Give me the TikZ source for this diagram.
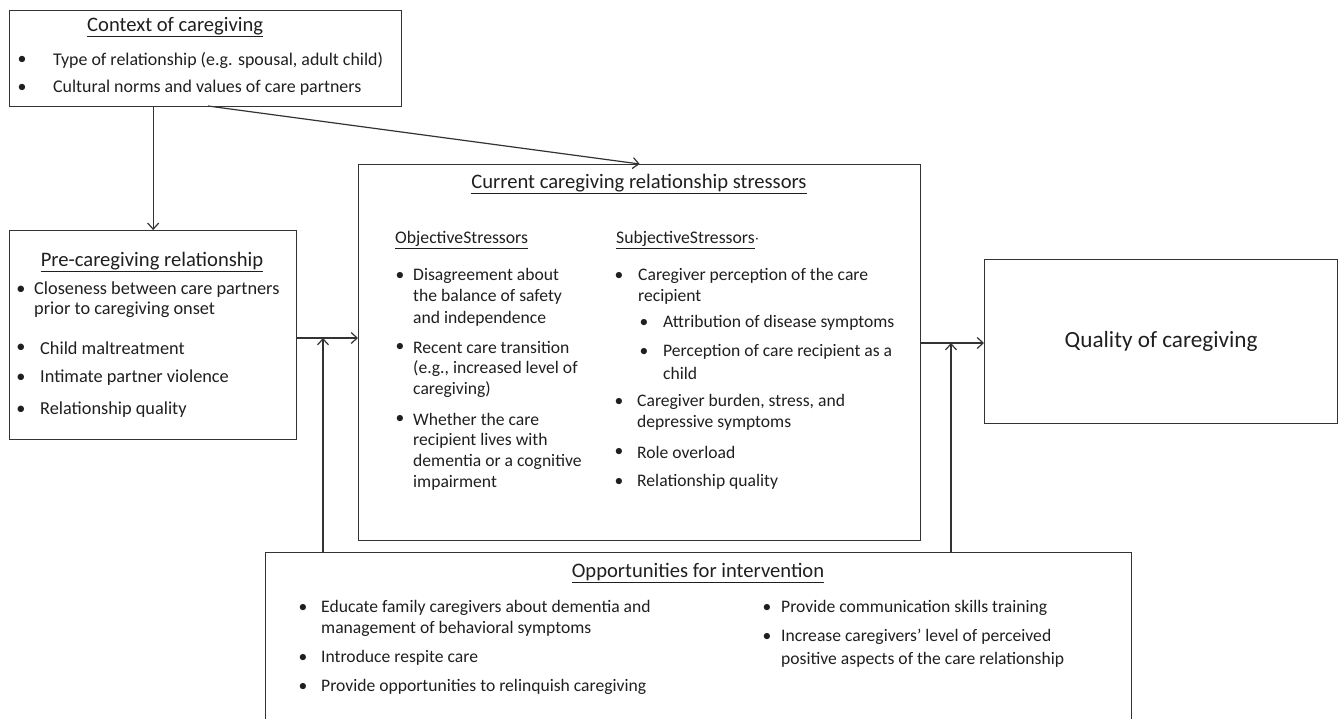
\documentclass[tikz,border=0pt]{standalone}
\usepackage{fontspec}
\setmainfont{Carlito}
\usetikzlibrary{arrows.meta,calc}
\newcommand\tline[5]{\node[txt,anchor=west,font=\fontsize{#5}{#5}\selectfont] (#1) at (#2,#3) {#4};}
\newcommand\bul[4]{\node[txt,anchor=center,font=\fontsize{#4}{#4}\selectfont] (#1) at (#2,#3) {\textbullet};}
\begin{document}
\begin{tikzpicture}[x=1pt,y=-1pt,
  box/.style={draw=black!80,line width=1.3pt,rectangle,anchor=north west,inner sep=0pt},
  txt/.style={inner sep=0pt,text=black!88},
  ttl/.style={inner sep=0pt,text=black!88,font=\fontsize{20.6}{20.6}\selectfont},
  arr/.style={draw=black!80,line width=1.2pt,-{Straight Barb[length=6pt,width=11pt,line width=1.2pt]}}]
\useasboundingbox (0,0) rectangle (1342,718);
\clip (0,0) rectangle (1342,718);
% boxes
\node[box,minimum width=392pt,minimum height=96pt] (ctx) at (9,10) {};
\node[box,minimum width=287pt,minimum height=209pt] (pre) at (9,230) {};
\node[box,minimum width=562pt,minimum height=376pt] (cur) at (358,164) {};
\node[box,minimum width=353pt,minimum height=164pt] (qual) at (984,259) {};
\node[box,minimum width=866pt,minimum height=200pt] (opp) at (265,552) {};
% context
\node[ttl,anchor=west] (ctxt) at (87,27) {\underline{Context of caregiving}};
\bul{cb1}{22}{60}{17.9}\tline{ct1}{53}{60}{Type of relationship (e.g. spousal, adult child)}{17.9}
\bul{cb2}{22}{88}{17.9}\tline{ct2}{53}{88}{Cultural norms and values of care partners}{17.9}
% pre
\node[ttl] (pret) at (152,262) {\underline{Pre-caregiving relationship}};
\bul{pb1}{21}{290}{18.3}\tline{pt1}{34}{290}{Closeness between care partners}{18.3}
\tline{pt1b}{34}{310}{prior to caregiving onset}{18.3}
\bul{pb2}{21}{348}{18.3}\tline{pt2}{40}{348}{Child maltreatment}{18.3}
\bul{pb3}{21}{378}{18.3}\tline{pt3}{40}{378}{Intimate partner violence}{18.3}
\bul{pb4}{21}{410}{18.3}\tline{pt4}{40}{410}{Relationship quality}{18.3}
% current
\node[ttl] (curt) at (639,184) {\underline{Current caregiving relationship stressors}};
\tline{obj}{395}{240}{\underline{ObjectiveStressors}}{17.7}
\tline{sub}{616}{240}{\underline{SubjectiveStressors}$\cdot$}{17.7}
\bul{ob1}{400}{276}{17.6}\tline{o1}{413}{276}{Disagreement about}{17.6}
\tline{o1b}{413}{297}{the balance of safety}{17.6}
\tline{o1c}{413}{319}{and independence}{17.6}
\bul{ob2}{400}{347}{17.6}\tline{o2}{413}{347}{Recent care transition}{17.6}
\tline{o2b}{413}{369}{(e.g., increased level of}{17.6}
\tline{o2c}{413}{390}{caregiving)}{17.6}
\bul{ob3}{400}{419}{17.6}\tline{o3}{413}{419}{Whether the care}{17.6}
\tline{o3b}{413}{441}{recipient lives with}{17.6}
\tline{o3c}{413}{462}{dementia or a cognitive}{17.6}
\tline{o3d}{413}{483}{impairment}{17.6}
\bul{sb1}{619}{276}{17.6}\tline{s1}{638}{276}{Caregiver perception of the care}{17.6}
\tline{s1b}{638}{297}{recipient}{17.6}
\bul{sb1a}{644}{323}{17.6}\tline{s1a}{663}{323}{Attribution of disease symptoms}{17.6}
\bul{sb1c}{644}{352}{17.6}\tline{s1c}{663}{352}{Perception of care recipient as a}{17.6}
\tline{s1d}{663}{373}{child}{17.6}
\bul{sb2}{619}{402}{17.6}\tline{s2}{637}{402}{Caregiver burden, stress, and}{17.6}
\tline{s2b}{637}{423}{depressive symptoms}{17.6}
\bul{sb3}{619}{452}{17.6}\tline{s3}{637}{452}{Role overload}{17.6}
\bul{sb4}{619}{482}{17.6}\tline{s4}{637}{482}{Relationship quality}{17.6}
% quality
\node[txt,font=\fontsize{23.2}{23.2}\selectfont] (qt) at (qual.center) {Quality of caregiving};
% opportunities
\node[ttl] (oppt) at (698,573) {\underline{Opportunities for intervention}};
\bul{ib1}{303}{608}{17.6}\tline{i1}{321}{608}{Educate family caregivers about dementia and}{17.6}
\tline{i1b}{321}{629}{management of behavioral symptoms}{17.6}
\bul{ib2}{303}{658}{17.6}\tline{i2}{321}{658}{Introduce respite care}{17.6}
\bul{ib3}{303}{687}{17.6}\tline{i3}{321}{687}{Provide opportunities to relinquish caregiving}{17.6}
\bul{ib4}{767}{608}{17.6}\tline{i4}{781}{608}{Provide communication skills training}{17.6}
\bul{ib5}{767}{637}{17.6}\tline{i5}{781}{637}{Increase caregivers' level of perceived}{17.6}
\tline{i5b}{781}{660}{positive aspects of the care relationship}{17.6}
% connectors
\coordinate (ctxout) at (208,106);
\coordinate (preout) at (pre.east |- 0,338);
\coordinate (curin) at (cur.west |- 0,338);
\coordinate (j1) at (323,338);
\coordinate (curout) at (cur.east |- 0,343);
\coordinate (qin) at (qual.west |- 0,343);
\coordinate (j2) at (951,343);
\draw[arr] (ctx.south -| pre.north) -- (pre.north);
\draw[arr] (ctxout) -- (cur.north);
\draw[arr] (preout) -- (curin);
\draw[arr] (opp.north -| j1) -- (j1);
\draw[arr] (curout) -- (qin);
\draw[arr] (opp.north -| j2) -- (j2);
\end{tikzpicture}
\end{document}
